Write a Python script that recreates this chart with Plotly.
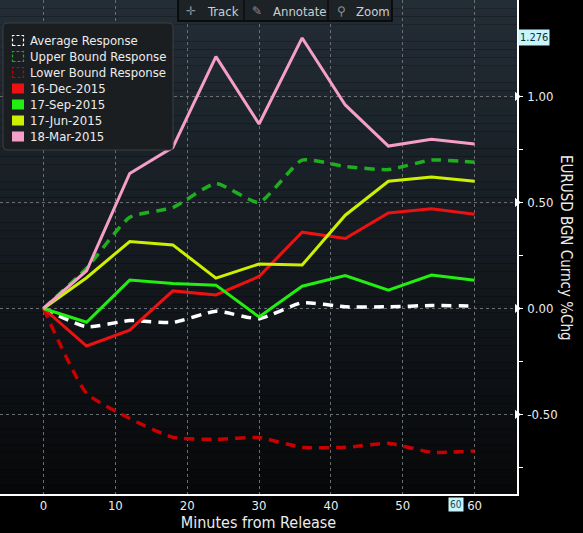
import plotly.graph_objects as go

minutes = [0, 6, 12, 18, 24, 30, 36, 42, 48, 54, 60]
avg_resp = [0, -0.086, -0.057, -0.066, -0.013, -0.048, 0.027, 0.008, 0.008, 0.014, 0.011]
upper_resp = [0, 0.19, 0.43, 0.476, 0.59, 0.50, 0.70, 0.67, 0.655, 0.70, 0.69]
lower_resp = [0, -0.40, -0.519, -0.608, -0.617, -0.609, -0.655, -0.655, -0.636, -0.678, -0.672]
dec_2015 = [0, -0.177, -0.102, 0.083, 0.064, 0.151, 0.36, 0.33, 0.45, 0.47, 0.445]
sep_2015 = [0, -0.065, 0.134, 0.118, 0.110, -0.04, 0.105, 0.155, 0.086, 0.158, 0.133]
jun_2015 = [0, 0.145, 0.316, 0.30, 0.143, 0.21, 0.205, 0.44, 0.60, 0.62, 0.60]
mar_2015 = [0, 0.178, 0.637, 0.76, 1.188, 0.870, 1.276, 0.96, 0.766, 0.798, 0.776]

x_ticks = [0, 10, 20, 30, 40, 50, 60]
y_ticks = [-0.5, 0.0, 0.5, 1.0]
y_tick_labels = ["-0.50", "0.00", "0.50", "1.00"]
last_high = 1.276
cursor_x_label = "60"

X_RANGE = [-6.05, 65.9]
Y_RANGE = [-0.875, 1.455]

FONT = "DejaVu Sans Condensed, DejaVu Sans, sans-serif"
TXT = "#ececec"

dashed = [
    ("Average Response", avg_resp, "#ffffff"),
    ("Upper Bound Response", upper_resp, "#1fae1f"),
    ("Lower Bound Response", lower_resp, "#c80000"),
]
solid = [
    ("16-Dec-2015", dec_2015, "#ee1111"),
    ("17-Sep-2015", sep_2015, "#22ee11"),
    ("17-Jun-2015", jun_2015, "#ccf000"),
    ("18-Mar-2015", mar_2015, "#f59ec8"),
]

fig = go.Figure()

for name, ys, col in dashed:
    fig.add_trace(go.Scatter(x=minutes, y=ys, mode="lines", name=name, showlegend=False,
                             line=dict(color=col, width=3.5, dash="10px,7px", shape="spline", smoothing=0.5)))
for name, ys, col in solid:
    fig.add_trace(go.Scatter(x=minutes, y=ys, mode="lines", name=name, showlegend=False,
                             line=dict(color=col, width=3)))

# triangle markers on the major y ticks (sit on the right axis line)
fig.add_trace(go.Scatter(x=[X_RANGE[1]] * len(y_ticks), y=y_ticks, mode="markers", showlegend=False,
                         hoverinfo="skip", cliponaxis=False,
                         marker=dict(symbol="triangle-right", size=8, color="#ffffff", line=dict(width=0))))

W, H = 583, 533
ML, MR, MT, MB = 0, 66, 0, 39
PW, PH = W - ML - MR, H - MT - MB
def px_x(p):
    return (p - ML) / PW
def px_y(p):
    return 1 - (p - MT) / PH

# gradient background of plot area
n = 60
top = (35, 45, 54)
bot = (7, 8, 10)
shapes = []
for i in range(n):
    t = i / (n - 1)
    c = tuple(int(round(top[k] + (bot[k] - top[k]) * t)) for k in range(3))
    shapes.append(dict(type="rect", xref="paper", yref="paper", x0=0, x1=1,
                       y0=1 - (i + 1) / n, y1=1 - i / n, fillcolor="rgb(%d,%d,%d)" % c,
                       line=dict(width=0), layer="below"))

annotations = []

# toolbar
shapes.append(dict(type="rect", xref="paper", yref="paper", x0=px_x(178), x1=px_x(392),
                   y0=px_y(21), y1=px_y(-2), fillcolor="#1d2227", line=dict(color="#050505", width=1.5)))
for dx in (244, 328):
    shapes.append(dict(type="line", xref="paper", yref="paper", x0=px_x(dx), x1=px_x(dx),
                       y0=px_y(20), y1=px_y(0), line=dict(color="#0b0d0f", width=1.5)))
tb_items = [("✛", 191, "Track", 205), ("✎", 257, "Annotate", 271), ("⚲", 341, "Zoom", 354)]
for icon, ix, label, lx in tb_items:
    annotations.append(dict(text=icon, x=px_x(ix), y=px_y(11), xref="paper", yref="paper",
                            showarrow=False, xanchor="center", yanchor="middle",
                            font=dict(family="DejaVu Sans", size=12, color="#8a9096")))
    annotations.append(dict(text=label, x=px_x(lx), y=px_y(11), xref="paper", yref="paper",
                            showarrow=False, xanchor="left", yanchor="middle",
                            font=dict(family=FONT, size=13, color="#c9ced3")))

# hand-drawn legend box (compact, Bloomberg style)
lx0, lx1, ly0, ly1, r = 3, 173, 23, 150, 4
path = (f"M {px_x(lx0 + r)},{px_y(ly0)} L {px_x(lx1 - r)},{px_y(ly0)} "
        f"Q {px_x(lx1)},{px_y(ly0)} {px_x(lx1)},{px_y(ly0 + r)} "
        f"L {px_x(lx1)},{px_y(ly1 - r)} Q {px_x(lx1)},{px_y(ly1)} {px_x(lx1 - r)},{px_y(ly1)} "
        f"L {px_x(lx0 + r)},{px_y(ly1)} Q {px_x(lx0)},{px_y(ly1)} {px_x(lx0)},{px_y(ly1 - r)} "
        f"L {px_x(lx0)},{px_y(ly0 + r)} Q {px_x(lx0)},{px_y(ly0)} {px_x(lx0 + r)},{px_y(ly0)} Z")
shapes.append(dict(type="path", xref="paper", yref="paper", path=path, fillcolor="#1b1e21",
                   line=dict(color="#3a3e42", width=1), layer="above"))
entries = [(nm, col, True) for nm, _, col in dashed] + [(nm, col, False) for nm, _, col in solid]
for i, (nm, col, is_dash) in enumerate(entries):
    cy = 40.5 + 16 * i
    if is_dash:
        shapes.append(dict(type="rect", xref="paper", yref="paper", x0=px_x(12.5), x1=px_x(23.5),
                           y0=px_y(cy + 5), y1=px_y(cy - 5), fillcolor="rgba(0,0,0,0)",
                           line=dict(color=col, width=1.2, dash="3px,2px"), layer="above"))
    else:
        shapes.append(dict(type="rect", xref="paper", yref="paper", x0=px_x(12), x1=px_x(24),
                           y0=px_y(cy + 5), y1=px_y(cy - 5), fillcolor=col,
                           line=dict(width=0), layer="above"))
    annotations.append(dict(text=nm, x=px_x(28), y=px_y(cy), xref="paper", yref="paper",
                            showarrow=False, xanchor="left", yanchor="middle",
                            font=dict(family=FONT, size=13, color=TXT)))

# y axis title on the right, reading top to bottom
annotations.append(dict(text="EURUSD BGN Curncy %Chg", textangle=90, x=px_x(566), y=px_y(248),
                        xref="paper", yref="paper", showarrow=False, xanchor="center", yanchor="middle",
                        font=dict(family=FONT, size=15, color=TXT)))
# last value label
annotations.append(dict(text=f"{last_high:.3f}", x=1, y=last_high, xref="paper", yref="y",
                        showarrow=False, xanchor="left", yanchor="middle", bgcolor="#c6f6fc",
                        font=dict(family=FONT, size=11, color="#1a2a30"), borderpad=1, xshift=1))
# cursor x label
annotations.append(dict(text=cursor_x_label, x=px_x(456), y=px_y(504), xref="paper", yref="paper",
                        showarrow=False, xanchor="center", yanchor="middle", bgcolor="#c6f6fc",
                        font=dict(family=FONT, size=10, color="#1a4a50"), borderpad=1))

fig.update_layout(
    width=W, height=H,
    margin=dict(l=ML, r=MR, t=MT, b=MB, autoexpand=False),
    paper_bgcolor="#000000", plot_bgcolor="rgba(0,0,0,0)",
    font=dict(family=FONT, size=13, color=TXT),
    shapes=shapes, annotations=annotations,
    showlegend=False, hovermode=False,
    xaxis=dict(range=X_RANGE, tickvals=x_ticks, showgrid=True, gridcolor="#6a6e72",
               griddash="dot", gridwidth=1, zeroline=False, showline=True, linecolor="#ffffff",
               linewidth=1.5, ticks="", tickfont=dict(size=13, color=TXT), ticklabelstandoff=-1,
               title=dict(text="Minutes from Release", font=dict(size=16, color=TXT), standoff=0)),
    yaxis=dict(range=Y_RANGE, side="right", tickvals=y_ticks,
               ticktext=y_tick_labels, showgrid=True, gridcolor="#6a6e72",
               griddash="dot", gridwidth=1, zeroline=False, showline=True, linecolor="#ffffff",
               linewidth=1.5, ticks="", tickfont=dict(size=13, color=TXT), ticklabelstandoff=6,
               minor=dict(dtick=0.25, tick0=0, ticks="outside", ticklen=4, tickcolor="#ffffff",
                          showgrid=False)),
)

fig.write_html("out.html", config={"displayModeBar": False},
               post_script="document.body.style.margin='0';document.body.style.background='#000';")
